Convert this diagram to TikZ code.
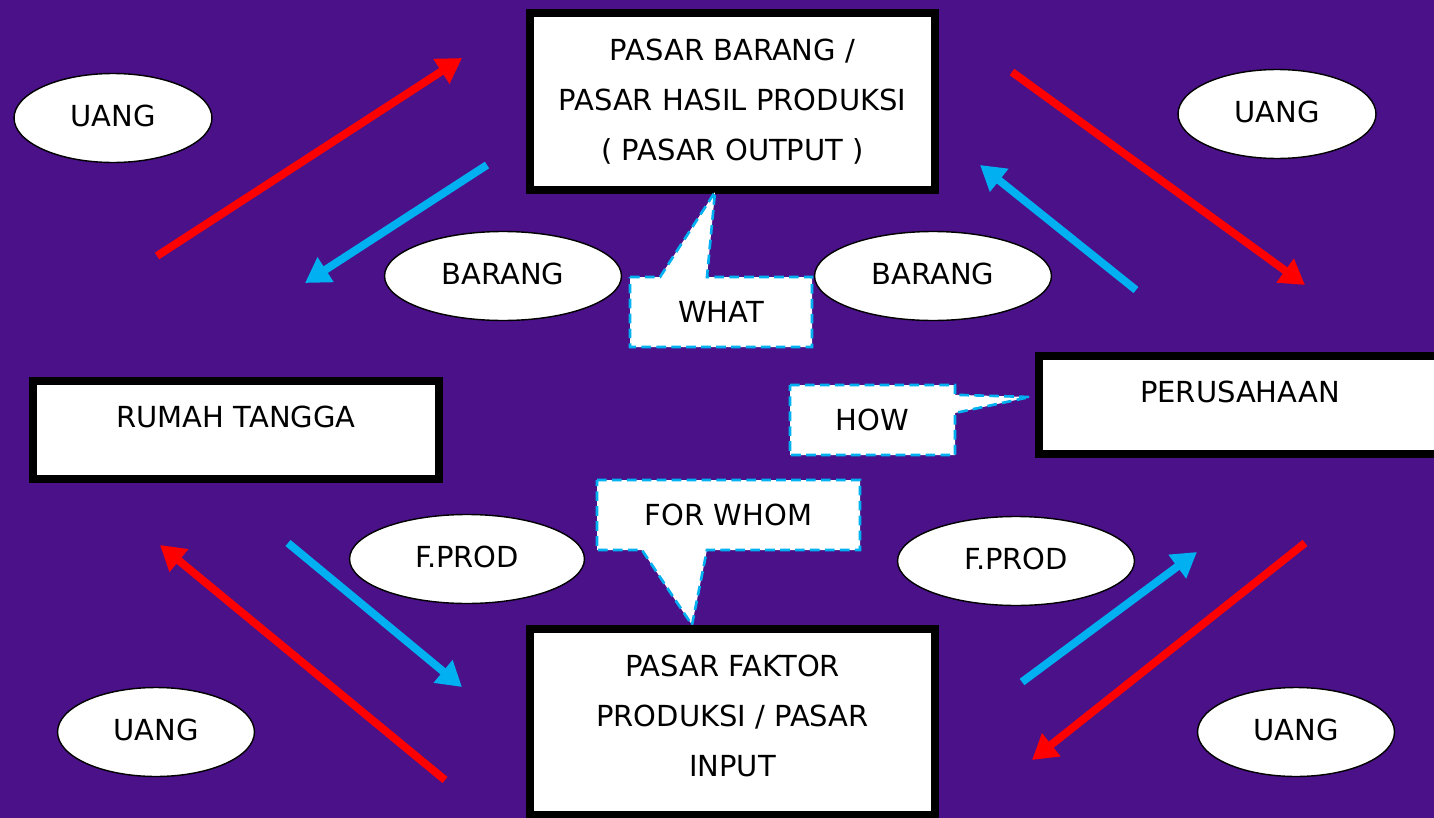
\documentclass[tikz,border=0pt]{standalone}
\usepackage{fontspec}
\setmainfont{DejaVu Sans}
\usetikzlibrary{calc,shapes.geometric,arrows.meta}
\definecolor{ungu}{RGB}{74,17,136}
\definecolor{biru}{RGB}{0,176,240}
\definecolor{merah}{RGB}{255,0,0}

\begin{document}
\begin{tikzpicture}[x=.02cm,y=-.02cm,
  kotak/.style={rectangle,draw=black,fill=white,line width=.15cm,inner sep=0pt,align=center,font=\fontsize{16.5}{28.5}\selectfont},
  naik/.style={text height=.42cm,text depth=.52cm},
  elips/.style={ellipse,draw=black,fill=white,line width=.8pt,inner sep=0pt,minimum height=1.78cm,text depth=.08cm,font=\fontsize{16.5}{20}\selectfont},
  panah/.style={line width=4.5pt,-{Triangle[length=14pt,width=16pt]}},
  tanya/.style={draw=biru,fill=white,line width=1.5pt,dash pattern=on 5.5pt off 3pt},
  tulis/.style={font=\fontsize{16.5}{20}\selectfont}]
\useasboundingbox (0,0) rectangle (1434,818);
\clip (0,0) rectangle (1434,818);
\fill[ungu] (0,0) rectangle (1434,818);
\draw[panah,merah] (157,256) coordinate(m1) -- (462,58) coordinate(m2);
\draw[panah,merah] (1012,72) coordinate(m3) -- (1305,285) coordinate(m4);
\draw[panah,merah] (445,780) coordinate(m5) -- (160,545) coordinate(m6);
\draw[panah,merah] (1305,543) coordinate(m7) -- (1032,760) coordinate(m8);
\draw[panah,biru] (487,165) coordinate(b1) -- (305,283) coordinate(b2);
\draw[panah,biru] (1136,290) coordinate(b3) -- (980,165) coordinate(b4);
\draw[panah,biru] (288,543) coordinate(b5) -- (462,687) coordinate(b6);
\draw[panah,biru] (1022,682) coordinate(b7) -- (1197,552) coordinate(b8);
\foreach \nama/\x/\y/\teks/\lebar in {ua/113/118/UANG/3.96,ub/1277/114/UANG/3.96,ba/503/276/BARANG/4.74,bb/933/276/BARANG/4.74,fa/467/559/F.PROD/4.7,fb/1016/561/F.PROD/4.74,uc/156/732/UANG/3.94,ud/1296/732/UANG/3.94}
  \node[elips,minimum width=\lebar cm] (\nama) at (\x,\y) {\teks};
\node[kotak,minimum width=8.11cm,minimum height=3.55cm] (pb) at (732.5,101.5) {PASAR BARANG /\\PASAR HASIL PRODUKSI\\( PASAR OUTPUT )};
\node[kotak,naik,minimum width=8.13cm,minimum height=1.97cm] (rt) at (236,430) {RUMAH TANGGA};
\node[kotak,naik,minimum width=8.05cm,minimum height=1.97cm] (pe) at (1240,405) {PERUSAHAAN};
\node[kotak,text depth=.24cm,minimum width=8.11cm,minimum height=3.73cm] (pf) at (732.5,722) {PASAR FAKTOR\\PRODUKSI / PASAR\\INPUT};
\coordinate (w1) at (630,277); \coordinate (w2) at (812,347); \coordinate (wt) at (715,192);
\draw[tanya] (w1) -- ($(w1)!.165!(w1 -| w2)$) -- (wt) -- ($(w1)!.423!(w1 -| w2)$) -- (w1 -| w2) -- (w2) -- (w2 -| w1) -- cycle;
\node[tulis] (what) at ($(w1)!.5!(w2)$) {WHAT};
\coordinate (h1) at (790,385); \coordinate (h2) at (955,455); \coordinate (ht) at (1030,397);
\draw[tanya] (h1) -- (h1 -| h2) -- ($(h1 -| h2)!.14!(h2)$) -- (ht) -- ($(h1 -| h2)!.4!(h2)$) -- (h2) -- (h2 -| h1) -- cycle;
\node[tulis] (how) at ($(h1)!.5!(h2)$) {HOW};
\coordinate (f1) at (597,480); \coordinate (f2) at (860,550); \coordinate (ft) at (692,625);
\draw[tanya] (f1) -- (f1 -| f2) -- (f2) -- ($(f2 -| f1)!.418!(f2)$) -- (ft) -- ($(f2 -| f1)!.171!(f2)$) -- (f2 -| f1) -- cycle;
\node[tulis] (forwhom) at ($(f1)!.5!(f2)$) {FOR WHOM};
\end{tikzpicture}
\end{document}
